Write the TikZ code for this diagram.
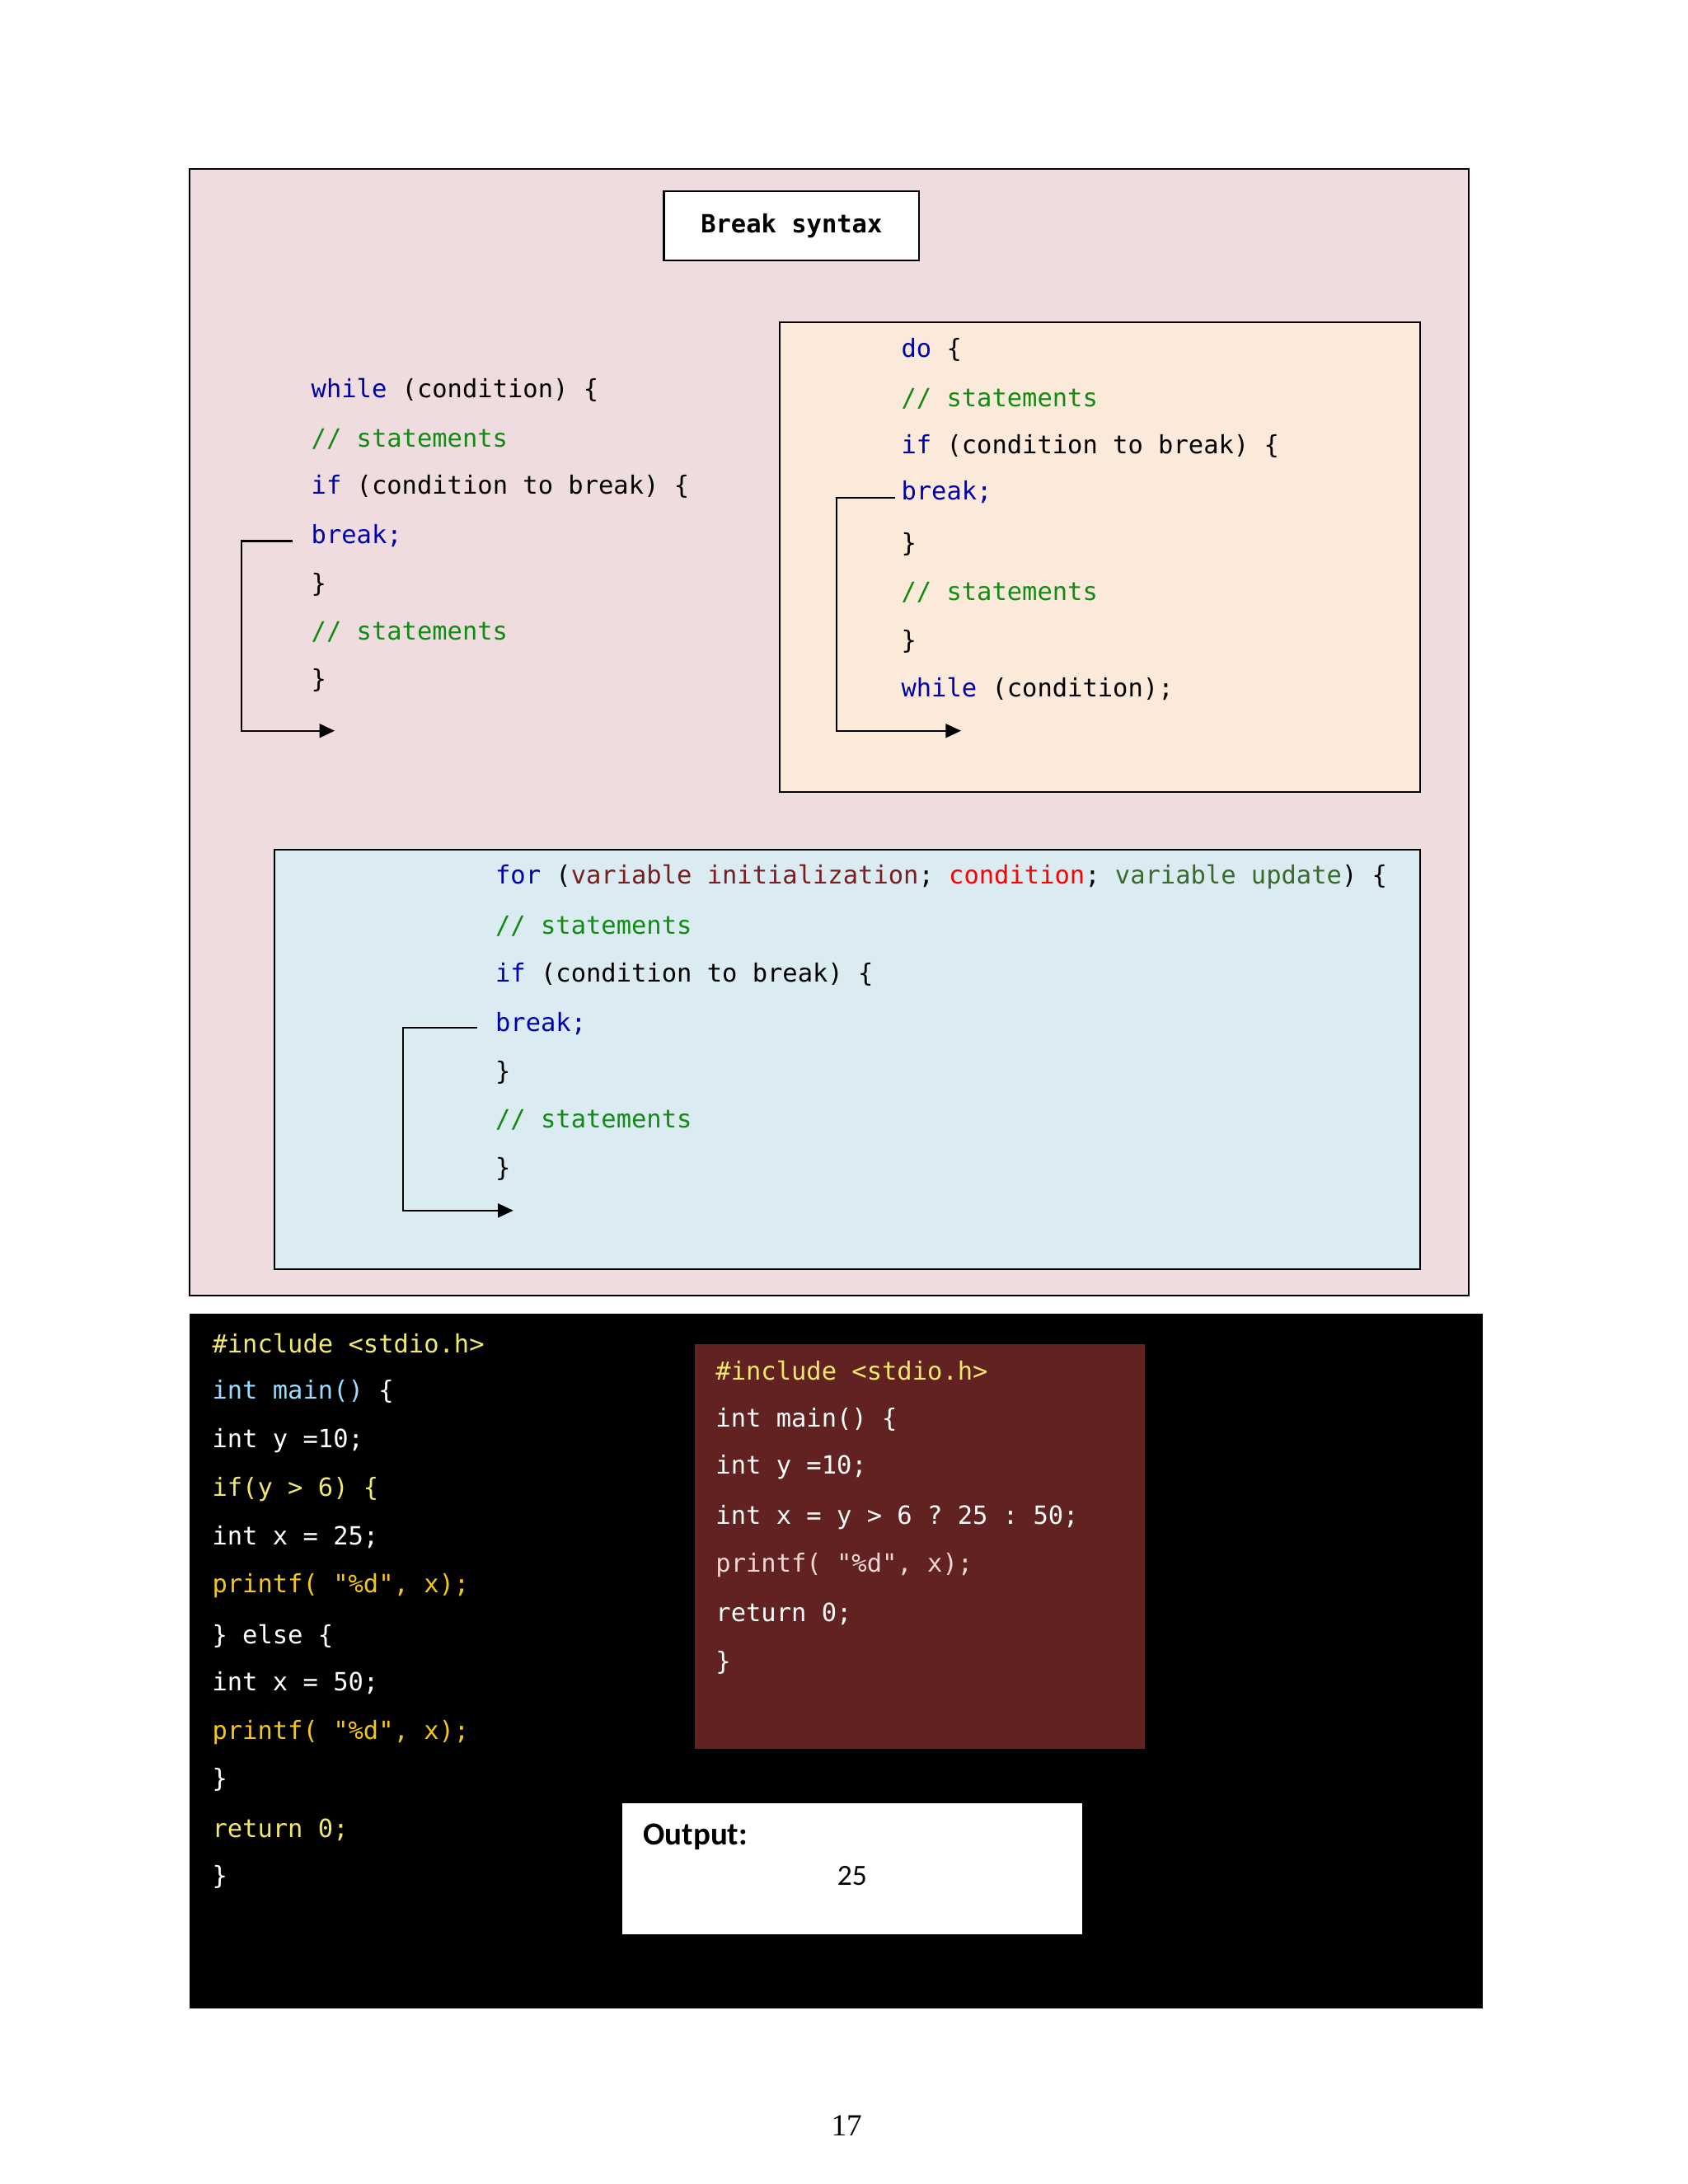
\documentclass[tikz,border=0pt]{standalone}
\usepackage{fontspec}
\setmonofont{DejaVu Sans Mono}
\setmainfont{Liberation Serif}
\newfontfamily\outf{Carlito}
\usetikzlibrary{arrows.meta}
\definecolor{pinkbg}{HTML}{EFDCDF}
\definecolor{peach}{HTML}{FBE9DA}
\definecolor{lblue}{HTML}{DBEBF2}
\definecolor{dred}{HTML}{622222}
\definecolor{kw}{HTML}{0000AA}
\definecolor{cm}{HTML}{138A13}
\definecolor{vi}{HTML}{7A1F1F}
\definecolor{vu}{HTML}{3A6B2A}
\definecolor{lb}{HTML}{9CDCFE}
\definecolor{yl}{HTML}{F2E86A}
\definecolor{gd}{HTML}{F5C518}
\definecolor{pk}{HTML}{F2D6D6}
\tikzset{code/.style={anchor=west,inner sep=0pt,font=\ttfamily\fontsize{18}{20}\selectfont},
 brk/.style={line width=1.3pt,-{Triangle[length=11pt,width=10pt]}},
 frame/.style={draw=black,line width=1.2pt}}
\begin{document}
\begin{tikzpicture}[x=1pt,y=-1pt]
\useasboundingbox (0,0) rectangle (1210,1566);
\fill[white] (0,0) rectangle (1210,1566);
% outer pink
\draw[frame,fill=pinkbg] (136,121) rectangle (1053,929);
\node[frame,fill=white,minimum width=183pt,minimum height=50pt,font=\ttfamily\bfseries\fontsize{18}{20}\selectfont] (title) at (567.5,162) {Break syntax};
% while
\node[code] (w1) at (223,280) {\textcolor{kw}{while} (condition) \{};
\node[code] (w2) at (223,315) {\textcolor{cm}{// statements}};
\node[code] (w3) at (223,349) {\textcolor{kw}{if} (condition to break) \{};
\node[code] (w4) at (223,384) {\textcolor{kw}{break;}};
\node[code] (w5) at (223,419) {\}};
\node[code] (w6) at (223,453) {\textcolor{cm}{// statements}};
\node[code] (w7) at (223,488) {\}};
\coordinate (wa) at (210,388); \coordinate (wb) at (240,524);
\draw[brk] (wa) -- (173,388) |- (wb);
% do-while
\draw[frame,fill=peach] (559,231) rectangle (1018,568);
\node[code] (d1) at (646,251) {\textcolor{kw}{do} \{};
\node[code] (d2) at (646,286) {\textcolor{cm}{// statements}};
\node[code] (d3) at (646,320) {\textcolor{kw}{if} (condition to break) \{};
\node[code] (d4) at (646,353) {\textcolor{kw}{break;}};
\node[code] (d5) at (646,390) {\}};
\node[code] (d6) at (646,425) {\textcolor{cm}{// statements}};
\node[code] (d7) at (646,460) {\}};
\node[code] (d8) at (646,494) {\textcolor{kw}{while} (condition);};
\coordinate (da) at (642,357); \coordinate (db) at (689,524);
\draw[brk] (da) -- (600,357) |- (db);
% for
\draw[frame,fill=lblue] (197,609) rectangle (1018,910);
\node[code] (f1) at (355,629) {\textcolor{kw}{for} (\textcolor{vi}{variable initialization}; \textcolor{red}{condition}; \textcolor{vu}{variable update}) \{};
\node[code] (f2) at (355,664) {\textcolor{cm}{// statements}};
\node[code] (f3) at (355,699) {\textcolor{kw}{if} (condition to break) \{};
\node[code] (f4) at (355,734) {\textcolor{kw}{break;}};
\node[code] (f5) at (355,769) {\}};
\node[code] (f6) at (355,803) {\textcolor{cm}{// statements}};
\node[code] (f7) at (355,838) {\}};
\coordinate (fa) at (342,737); \coordinate (fb) at (368,868);
\draw[brk] (fa) -- (289,737) |- (fb);
% black
\fill[black] (136,942) rectangle (1063,1440);
\begin{scope}[every node/.style={code,text=white}]
\node (c1) at (152,963) {\textcolor{yl}{\#include <stdio.h>}};
\node (c2) at (152,998) {\textcolor{lb}{int main()} \{};
\node (c3) at (152,1033) {int y =10;};
\node (c4) at (152,1068) {\textcolor{yl}{if(y > 6) \{}};
\node (c5) at (152,1102) {int x = 25;};
\node (c6) at (152,1137) {\textcolor{gd}{printf( "\%d", x);}};
\node (c7) at (152,1173) {\} else \{};
\node (c8) at (152,1207) {int x = 50;};
\node (c9) at (152,1242) {\textcolor{gd}{printf( "\%d", x);}};
\node (c10) at (152,1276) {\}};
\node (c11) at (152,1312) {\textcolor{yl}{return 0;}};
\node (c12) at (152,1346) {\}};
\end{scope}
\fill[dred] (498,964) rectangle (821,1254);
\begin{scope}[every node/.style={code,text=white}]
\node (r1) at (513,983) {\textcolor{yl}{\#include <stdio.h>}};
\node (r2) at (513,1018) {int main() \{};
\node (r3) at (513,1052) {int y =10;};
\node (r4) at (513,1088) {int x = y > 6 ? 25 : 50;};
\node (r5) at (513,1122) {\textcolor{pk}{printf( "\%d",  x);}};
\node (r6) at (513,1157) {return 0;};
\node (r7) at (513,1192) {\}};
\end{scope}
\fill[white] (446,1293) rectangle (776,1387);
\node[anchor=west,inner sep=0pt,font=\outf\bfseries\fontsize{23}{25}\selectfont] (out) at (461,1317) {Output:};
\node[inner sep=0pt,font=\outf\fontsize{21}{23}\selectfont] (res) at (611,1345) {25};
\node[inner sep=0pt,font=\fontsize{22}{24}\selectfont] (pg) at (607,1524) {17};
\end{tikzpicture}
\end{document}
